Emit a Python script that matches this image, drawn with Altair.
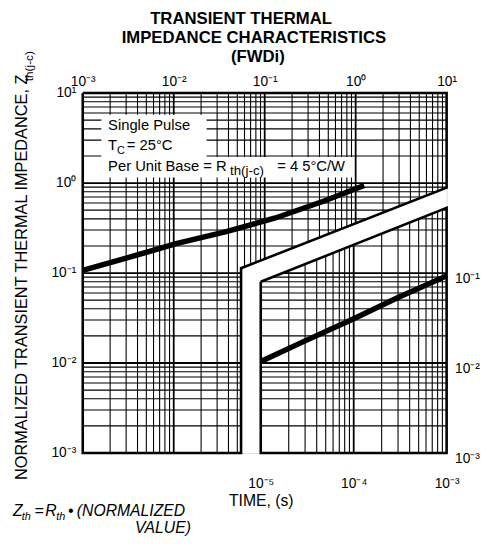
import math
import altair as alt
import pandas as pd

# ---------------- data ----------------
# upper-left panel (top / left axes): time in s, normalized Zth
upper_time = [0.001, 0.003, 0.0109, 0.0378, 0.131, 0.45, 1.24]
upper_z = [0.107, 0.146, 0.213, 0.288, 0.409, 0.63, 0.94]
# lower-right panel (bottom / right axes)
lower_time = [1e-5, 3e-5, 1e-4, 3e-4, 1e-3]
lower_z = [0.0104, 0.0176, 0.031, 0.0535, 0.093]

upper_x_ticks = [1e-3, 1e-2, 1e-1, 1e0, 1e1]
upper_y_ticks = [1e-3, 1e-2, 1e-1, 1e0, 1e1]
lower_x_ticks = [1e-5, 1e-4, 1e-3]
lower_y_ticks = [1e-3, 1e-2, 1e-1]
sup = {-5: "⁻⁵", -4: "⁻⁴", -3: "⁻³", -2: "⁻²", -1: "⁻¹", 0: "⁰", 1: "¹"}

title_lines = ["TRANSIENT THERMAL", "IMPEDANCE CHARACTERISTICS", "(FWDi)"]
y_title = "NORMALIZED TRANSIENT THERMAL IMPEDANCE, Z"
y_title_sub = "th(j-c)"
x_title = "TIME, (s)"

# ---------------- panel geometry (data coordinates) ----------------
U_X = (1e-3, 10.0)
U_Y = (1e-3, 10.0)
U_NOTCH = 0.055
U_DIAG = ((0.055, 0.113), (10.0, 0.89))
L_X = (1e-5, 1e-3)
L_BOTTOM = 1e-3
L_DIAG = ((1e-5, 0.08), (1e-3, 0.53))

LG = math.log10


def logline(p0, p1):
    (x0, y0), (x1, y1) = p0, p1
    s = (LG(y1) - LG(y0)) / (LG(x1) - LG(x0))
    fy = lambda x: 10 ** (LG(y0) + s * (LG(x) - LG(x0)))
    fx = lambda y: 10 ** (LG(x0) + (LG(y) - LG(y0)) / s)
    return fy, fx


def log_steps(e0, e1):
    return [(k * 10.0 ** e, k == 1) for e in range(e0, e1) for k in range(1, 10)]


MINOR, MAJOR = 1.1, 1.8
fy_u, fx_u = logline(*U_DIAG)
fy_l, fx_l = logline(*L_DIAG)

up_rows = []
for v, major in log_steps(-3, 1):
    if v <= U_X[0] * 1.001:
        continue
    w = MAJOR if major else MINOR
    y0 = U_Y[0] if v < U_NOTCH else fy_u(v)
    up_rows.append(dict(x=v, x2=v, y=y0, y2=U_Y[1], w=w))
for v, major in log_steps(-3, 1):
    if v <= U_Y[0] * 1.001:
        continue
    w = MAJOR if major else MINOR
    if v <= U_DIAG[0][1]:
        x1 = U_NOTCH
    elif v < U_DIAG[1][1]:
        x1 = fx_u(v)
    else:
        x1 = U_X[1]
    up_rows.append(dict(x=U_X[0], x2=x1, y=v, y2=v, w=w))

lo_rows = []
for v, major in log_steps(-5, -3):
    if v <= L_X[0] * 1.001:
        continue
    w = MAJOR if major else MINOR
    lo_rows.append(dict(x=v, x2=v, y=L_BOTTOM, y2=fy_l(v), w=w))
for v, major in log_steps(-3, 0):
    if v <= L_BOTTOM * 1.001 or v >= L_DIAG[1][1]:
        continue
    w = MAJOR if major else MINOR
    x0 = L_X[0] if v <= L_DIAG[0][1] else fx_l(v)
    lo_rows.append(dict(x=x0, x2=L_X[1], y=v, y2=v, w=w))

up_frame = pd.DataFrame(dict(
    x=[U_X[0], U_X[1], U_X[1], U_NOTCH, U_NOTCH, U_X[0], U_X[0]],
    y=[U_Y[1], U_Y[1], U_DIAG[1][1], U_DIAG[0][1], U_Y[0], U_Y[0], U_Y[1]],
    i=list(range(7))))
lo_frame = pd.DataFrame(dict(
    x=[L_X[0], L_X[1], L_X[1], L_X[0], L_X[0]],
    y=[L_DIAG[0][1], L_DIAG[1][1], L_BOTTOM, L_BOTTOM, L_DIAG[0][1]],
    i=list(range(5))))

FONT = "Liberation Sans"
exp_expr = "round(log(datum.value)/LN10)"
label_expr = "'10' + (" + " : ".join(
    f"{exp_expr} == {k} ? '{s}'" for k, s in sup.items()) + " : '')"

W, H = 370, 366

xs_u = alt.Scale(type="log", domain=list(U_X), nice=False)
ys_u = alt.Scale(type="log", domain=list(U_Y), nice=False)
xs_l = alt.Scale(type="log", domain=list(L_X), nice=False, range=[181, W])
ys_l = alt.Scale(type="log", domain=list(U_Y), nice=False)

common = dict(grid=False, ticks=False, domain=False, labelFontSize=14, labelFont=FONT,
              labelColor="black", labelFlush=False, labelOverlap=False, labelExpr=label_expr)

ax_top = alt.Axis(orient="top", values=upper_x_ticks, title=None, labelPadding=8,
                  labelBaseline="alphabetic", **common)
ax_left = alt.Axis(orient="left", values=upper_y_ticks, labelPadding=7, title=y_title,
                   titleFont=FONT, titleFontSize=16.6, titleFontWeight="normal",
                   titleColor="black", titleAngle=270, titleAlign="left",
                   titleBaseline="alphabetic", titleX=-57, titleY=393, **common)
ax_bottom = alt.Axis(orient="bottom", values=lower_x_ticks, labelPadding=24, title=x_title,
                     titleFont=FONT, titleFontSize=16, titleFontWeight="normal",
                     titleColor="black", titleAlign="center", titleBaseline="alphabetic",
                     titleX=181, titleY=53, **common)
ax_right = alt.Axis(orient="right", values=lower_y_ticks, labelPadding=8, labelOffset=6,
                    title=None, **common)

up_grid = alt.Chart(pd.DataFrame(up_rows)).mark_rule(color="black").encode(
    x=alt.X("x:Q", scale=xs_u, axis=ax_top),
    x2="x2:Q",
    y=alt.Y("y:Q", scale=ys_u, axis=ax_left),
    y2="y2:Q",
    strokeWidth=alt.StrokeWidth("w:Q", scale=None),
)
up_frame_l = alt.Chart(up_frame).mark_line(color="black", strokeWidth=2.6, strokeJoin="miter").encode(
    x=alt.X("x:Q", scale=xs_u, axis=ax_top),
    y=alt.Y("y:Q", scale=ys_u, axis=ax_left),
    order="i:Q",
)
up_curve = alt.Chart(pd.DataFrame(dict(t=upper_time, z=upper_z))).mark_line(
    color="black", strokeWidth=5.5, strokeCap="butt").encode(
    x=alt.X("t:Q", scale=xs_u, axis=ax_top),
    y=alt.Y("z:Q", scale=ys_u, axis=ax_left),
)

# white label boxes inside the upper panel (data coordinates)
box1 = alt.Chart().mark_rect(color="white").encode(
    x=alt.datum(0.0016), x2=alt.datum(0.023), y=alt.datum(1.95), y2=alt.datum(5.75))
box2 = alt.Chart().mark_rect(color="white").encode(
    x=alt.datum(0.0016), x2=alt.datum(0.92), y=alt.datum(1.15), y2=alt.datum(1.95))


def ann(text, x, y, dx=0, dy=0, size=15):
    return alt.Chart().mark_text(text=text, align="left", baseline="alphabetic", font=FONT,
                                 fontSize=size, color="black", dx=dx, dy=dy).encode(
        x=alt.datum(x), y=alt.datum(y))


TX = 0.0019
notes = [
    ann("Single Pulse", TX, 3.85),
    ann("T", TX, 2.32),
    ann("C", TX, 2.32, dx=9, dy=4, size=11),
    ann("= 25°C", TX, 2.32, dx=19),
    ann("Per Unit Base = R", TX, 1.37),
    ann("th(j-c)", TX, 1.37, dx=124, dy=4, size=13.5),
    ann("= 4 5°C/W", TX, 1.37, dx=172),
]


def px_text(text, x, y, size=16, align="left", angle=0, italic=False, bold=False):
    kw = dict(text=text, align=align, baseline="alphabetic", font=FONT, fontSize=size,
              color="black")
    if angle:
        kw["angle"] = angle
    if italic:
        kw["fontStyle"] = "italic"
    if bold:
        kw["fontWeight"] = "bold"
    return alt.Chart().mark_text(**kw).encode(x=alt.value(x), y=alt.value(y))


outside = [
    # chart title
    px_text(title_lines[0], 161, -70, size=17, align="center", bold=True),
    px_text(title_lines[1], 174, -51, size=17, align="center", bold=True),
    px_text(title_lines[2], 178, -32, size=17, align="center", bold=True),
    # subscript of the y axis title
    px_text(y_title_sub, -51, -12, size=12, angle=270),
    # formula below the chart
    px_text("Z", -71, 430, italic=True),
    px_text("th", -62, 434, size=11, italic=True),
    px_text("=", -49, 430, italic=True),
    px_text("R", -38, 430, italic=True),
    px_text("th", -27, 434, size=11, italic=True),
    px_text("•", -15, 430, italic=True),
    px_text("(NORMALIZED", -6, 430, size=16, align="left", italic=True),
    px_text("VALUE)", 110, 447, size=16, align="right", italic=True),
]

upper = alt.layer(up_grid, box1, box2, up_frame_l, up_curve, *notes, *outside)

lo_grid = alt.Chart(pd.DataFrame(lo_rows)).mark_rule(color="black").encode(
    x=alt.X("x:Q", scale=xs_l, axis=ax_bottom),
    x2="x2:Q",
    y=alt.Y("y:Q", scale=ys_l, axis=ax_right),
    y2="y2:Q",
    strokeWidth=alt.StrokeWidth("w:Q", scale=None),
)
lo_frame_l = alt.Chart(lo_frame).mark_line(color="black", strokeWidth=2.6, strokeJoin="miter").encode(
    x=alt.X("x:Q", scale=xs_l, axis=ax_bottom),
    y=alt.Y("y:Q", scale=ys_l, axis=ax_right),
    order="i:Q",
)
lo_curve = alt.Chart(pd.DataFrame(dict(t=lower_time, z=lower_z))).mark_line(
    color="black", strokeWidth=5.5, strokeCap="butt").encode(
    x=alt.X("t:Q", scale=xs_l, axis=ax_bottom),
    y=alt.Y("z:Q", scale=ys_l, axis=ax_right),
)
lower = alt.layer(lo_grid, lo_frame_l, lo_curve)

chart = alt.layer(upper, lower).resolve_scale(x="independent", y="independent").properties(
    width=W, height=H,
    autosize=alt.AutoSizeParams(type="none"),
    padding={"left": 76, "top": 82, "right": 38, "bottom": 84},
).configure_view(stroke=None).configure(background="white")

chart.save("out.html", embed_options={"renderer": "svg", "actions": False})
